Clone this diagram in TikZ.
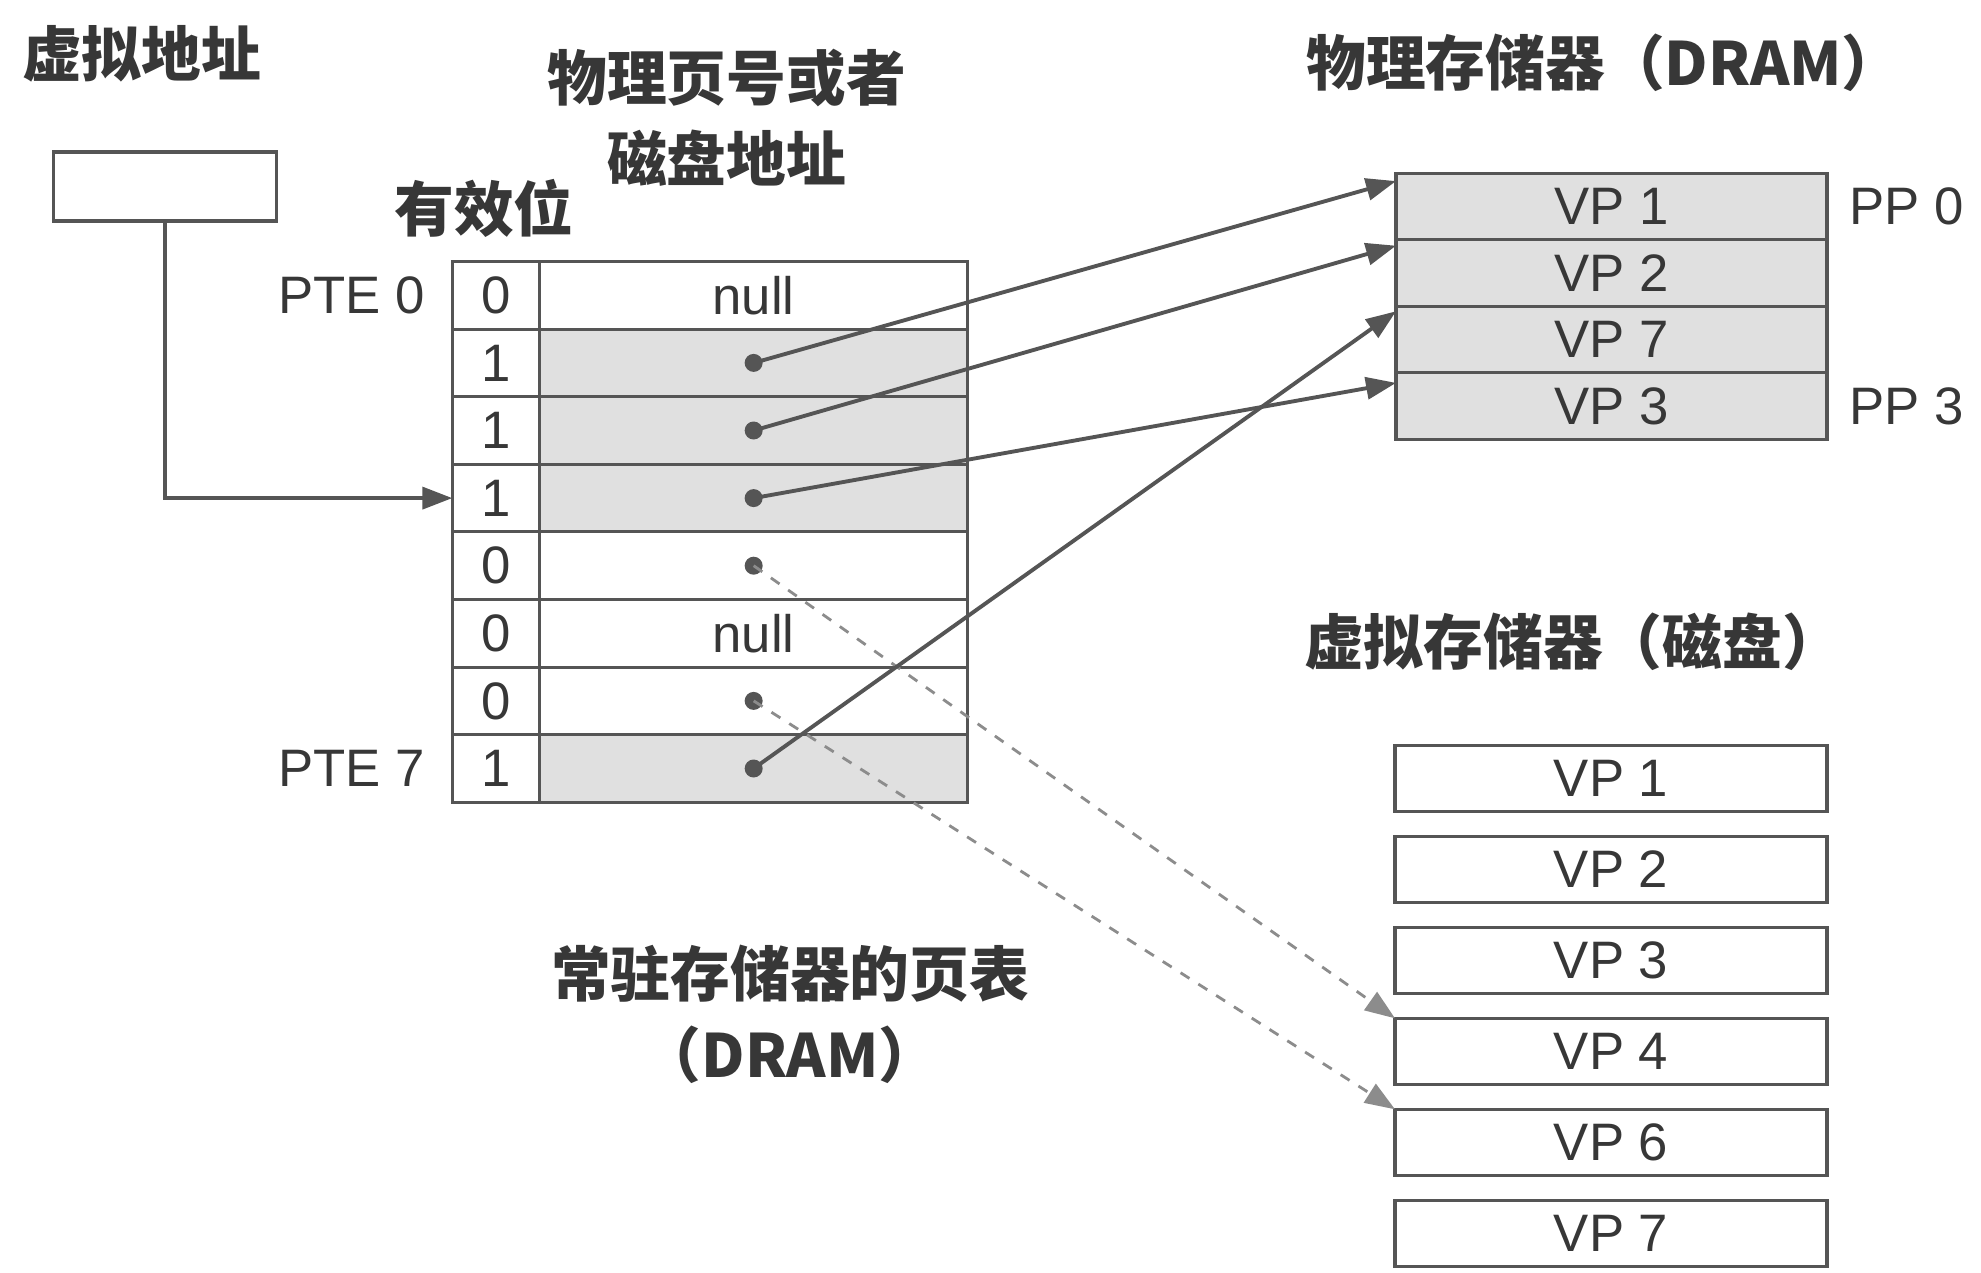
\documentclass[tikz,border=0pt]{standalone}
\usepackage{fontspec}
\setmainfont{Liberation Sans}
\newfontfamily\cjk{Noto Sans CJK SC}
\usepackage{tikz}
\usetikzlibrary{arrows.meta, positioning}
\definecolor{inkgray}{RGB}{55, 55, 55}
\definecolor{linegray}{RGB}{85, 85, 85}
\definecolor{dashgray}{RGB}{140, 140, 140}
\definecolor{shadegray}{RGB}{224, 224, 224}
\tikzset{
  >=Stealth,
  cell/.style={draw=linegray, line width=0.9pt, minimum height=0.676cm, inner sep=0pt, outer sep=0pt, font=\fontsize{15}{17}\selectfont, text=inkgray},
  bitcell/.style={cell, minimum width=0.872cm},
  addrcell/.style={cell, minimum width=4.283cm},
  shaded/.style={fill=shadegray},
  pagebox/.style={cell, minimum width=4.31cm, minimum height=0.666cm},
  diskbox/.style={cell, minimum width=4.32cm, minimum height=0.66cm},
  cjklabel/.style={font=\cjk\bfseries\fontsize{17}{23}\selectfont, text=inkgray, align=center},
  latinlabel/.style={font=\fontsize{15}{17}\selectfont, text=inkgray},
  ptearrow/.style={-{Triangle[length=3mm, width=2.2mm]}, line width=1.1pt, linegray},
  diskarrow/.style={-{Triangle[length=3mm, width=2.2mm]}, line width=0.8pt, dashgray, dashed}
}
\begin{document}
\begin{tikzpicture}
    \useasboundingbox (0,0) rectangle (19.81,12.72);

    \node (vatitle) [cjklabel] at (1.415, 12.18) {虚拟地址};
    \node (va) [draw=linegray, line width=0.9pt, minimum width=2.236cm, minimum height=0.69cm] at (1.65, 10.855) {};

    \node (v0) [bitcell] at (4.959, 9.767) {0};
    \node (a0) [addrcell, right=0pt of v0] {null};
    \node (v1) [bitcell, below=0pt of v0] {1};
    \node (a1) [addrcell, shaded, right=0pt of v1] {};
    \node (v2) [bitcell, below=0pt of v1] {1};
    \node (a2) [addrcell, shaded, right=0pt of v2] {};
    \node (v3) [bitcell, below=0pt of v2] {1};
    \node (a3) [addrcell, shaded, right=0pt of v3] {};
    \node (v4) [bitcell, below=0pt of v3] {0};
    \node (a4) [addrcell, right=0pt of v4] {};
    \node (v5) [bitcell, below=0pt of v4] {0};
    \node (a5) [addrcell, right=0pt of v5] {null};
    \node (v6) [bitcell, below=0pt of v5] {0};
    \node (a6) [addrcell, right=0pt of v6] {};
    \node (v7) [bitcell, below=0pt of v6] {1};
    \node (a7) [addrcell, shaded, right=0pt of v7] {};

    \node (pte0) [latinlabel, left=0.15cm of v0] {PTE 0};
    \node (pte7) [latinlabel, left=0.15cm of v7] {PTE 7};
    \node (validhdr) [cjklabel] at (4.839, 10.64) {有效位};
    \node (addrhdr) [cjklabel] at (7.265, 11.54) {物理页号或者\\磁盘地址};
    \node (tabletitle) [cjklabel] at (7.90, 2.58) {常驻存储器的页表\\（DRAM）};

    \node (dramtitle) [cjklabel] at (16.04, 12.09) {物理存储器（DRAM）};
    \node (m1) [pagebox, shaded] at (16.115, 10.656) {VP 1};
    \node (m2) [pagebox, shaded, below=0pt of m1] {VP 2};
    \node (m3) [pagebox, shaded, below=0pt of m2] {VP 7};
    \node (m4) [pagebox, shaded, below=0pt of m3] {VP 3};
    \node (pp0) [latinlabel, right=0.1cm of m1] {PP 0};
    \node (pp3) [latinlabel, right=0.1cm of m4] {PP 3};

    \node (disktitle) [cjklabel] at (15.73, 6.30) {虚拟存储器（磁盘）};
    \node (d1) [diskbox] at (16.11, 4.937) {VP 1};
    \node (d2) [diskbox, below=0.25cm of d1] {VP 2};
    \node (d3) [diskbox, below=0.25cm of d2] {VP 3};
    \node (d4) [diskbox, below=0.25cm of d3] {VP 4};
    \node (d5) [diskbox, below=0.25cm of d4] {VP 6};
    \node (d6) [diskbox, below=0.25cm of d5] {VP 7};

    \draw[ptearrow] (va.south) |- (v3.west);

    \fill[linegray] (a1.center) circle (0.09cm);
    \fill[linegray] (a2.center) circle (0.09cm);
    \fill[linegray] (a3.center) circle (0.09cm);
    \fill[linegray] (a4.center) circle (0.09cm);
    \fill[linegray] (a6.center) circle (0.09cm);
    \fill[linegray] (a7.center) circle (0.09cm);

    \draw[diskarrow] (a4.center) -- (d4.north west);
    \draw[diskarrow] (a6.center) -- (d5.north west);
    \draw[ptearrow] (a1.center) -- ([yshift=-0.08cm]m1.north west);
    \draw[ptearrow] (a2.center) -- ([yshift=-0.06cm]m2.north west);
    \draw[ptearrow] (a3.center) -- ([yshift=-0.1cm]m4.north west);
    \draw[ptearrow] (a7.center) -- ([yshift=-0.05cm]m3.north west);
\end{tikzpicture}
\end{document}
